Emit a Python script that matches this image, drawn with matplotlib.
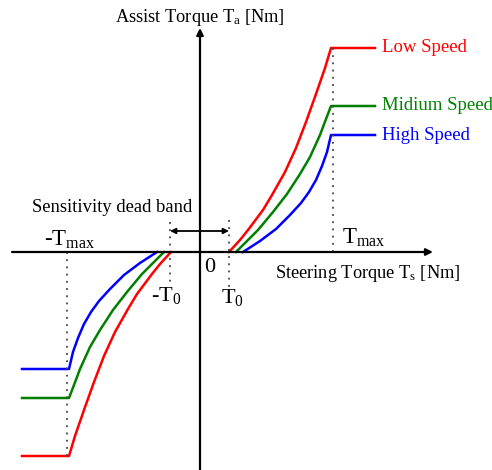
import numpy as np
import matplotlib
matplotlib.use("Agg")
import matplotlib.pyplot as plt

plt.rcParams['font.family'] = ['Liberation Serif', 'DejaVu Serif']
plt.rcParams['mathtext.fontset'] = 'custom'
plt.rcParams['mathtext.rm'] = 'Liberation Serif'
plt.rcParams['mathtext.it'] = 'Liberation Serif:italic'

# characteristic points (positive side)
t0 = 29
t_max = 133
t_end = 175

red_ts = [29, 40, 48, 63, 72, 85, 96, 106, 116, 125, 131]
red_ta = [0, 12, 22, 42, 57, 80, 104, 130, 158, 184, 204]
green_ts = [36, 58, 73, 87, 100, 110, 120, 126, 131]
green_ta = [0, 22, 40, 58, 78, 95, 117, 133, 146]
blue_ts = [43, 60, 76, 90, 101, 109, 116, 122, 127, 131]
blue_ta = [0, 11, 23, 37, 49, 60, 72, 86, 100, 117]

curves = [(red_ts, red_ta, 'red', 'Low Speed'),
          (green_ts, green_ta, 'green', 'Midium Speed'),
          (blue_ts, blue_ta, 'blue', 'High Speed')]

fig = plt.figure(figsize=(4.92, 4.70), dpi=100)
ax = fig.add_axes([0, 0, 1, 1])
ax.set_xlim(-200, 292)
ax.set_ylim(-218, 252)
ax.axis('off')

# axes with arrow heads
ax.annotate('', xy=(233, 0), xytext=(-188, 0),
            arrowprops=dict(arrowstyle='-|>', color='black', lw=1.6,
                            mutation_scale=10, shrinkA=0, shrinkB=0))
ax.annotate('', xy=(0, 224), xytext=(0, -218),
            arrowprops=dict(arrowstyle='-|>', color='black', lw=1.6,
                            mutation_scale=10, shrinkA=0, shrinkB=0))

# curves, mirrored for negative torque
for ts, ta, c, name in curves:
    xs = list(ts) + [t_end]
    ys = list(ta) + [ta[-1]]
    ax.plot(xs, ys, color=c, lw=1.8, solid_joinstyle='round')
    ax.plot([-v for v in xs[:-1]] + [-178], [-v for v in ys], color=c, lw=1.8,
            solid_joinstyle='round')
    ax.text(182, ta[-1], name, color=c, fontsize=13.5, va='center', ha='left')

# dotted guide lines
dot = dict(color='#444444', lw=1.3, linestyle=(0, (1, 3)))
ax.plot([t_max, t_max], [0, 204], **dot)
ax.plot([-t_max, -t_max], [0, -204], **dot)
ax.plot([t0, t0], [32, -36], **dot)
ax.plot([-t0 - 1, -t0 - 1], [30, -32], **dot)

# sensitivity dead band arrow
ax.annotate('', xy=(-t0 - 1, 21), xytext=(t0, 21),
            arrowprops=dict(arrowstyle='<|-|>', color='black', lw=1.3,
                            mutation_scale=8, shrinkA=0, shrinkB=0))
ax.text(-88, 45, 'Sensitivity dead band', fontsize=13.4, ha='center', va='center')

# labels
ax.text(0, 235, r'Assist Torque T$_{\mathrm{a}}$ [Nm]', fontsize=13.2,
        ha='center', va='center')
ax.text(75, -21, r'Steering Torque T$_{\mathrm{s}}$ [Nm]', fontsize=13.2,
        ha='left', va='center')
ax.text(-156, 12, r'-T$_{\mathrm{max}}$', fontsize=16.5, ha='left', va='center')
ax.text(142, 14, r'T$_{\mathrm{max}}$', fontsize=16.5, ha='left', va='center')
ax.text(4, -15, '0', fontsize=16, ha='left', va='center')
ax.text(-49, -43, r'-T$_{\mathrm{0}}$', fontsize=16, ha='left', va='center')
ax.text(21, -45, r'T$_{\mathrm{0}}$', fontsize=16, ha='left', va='center')

fig.savefig('out.png', dpi=100)
